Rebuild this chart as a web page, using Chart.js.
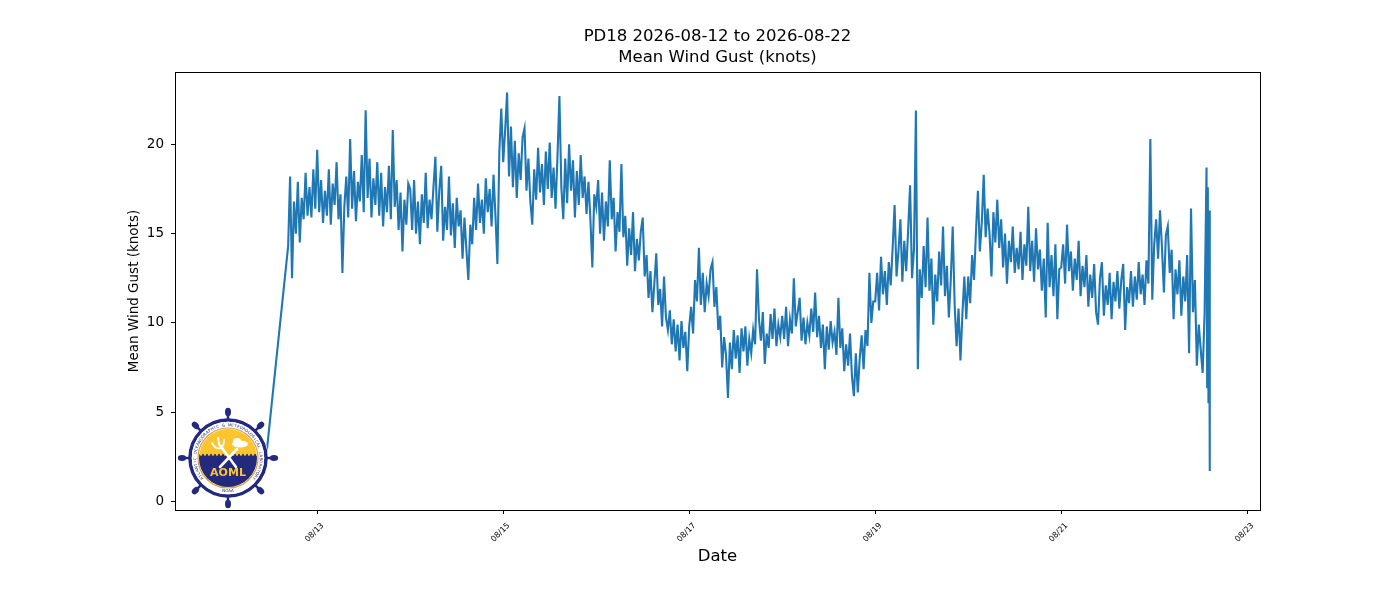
<!DOCTYPE html>
<html>
<head>
<meta charset="utf-8">
<title>PD18 Mean Wind Gust</title>
<script src="https://cdn.jsdelivr.net/npm/chart.js@4.4.1/dist/chart.umd.min.js"></script>
<style>
  body { margin: 0; background: #fff; }
  #gustChart { display: block; }
</style>
</head>
<body>
<canvas id="gustChart" width="1400" height="600"></canvas>
<script>
// Hours are counted from 2026-08-12 00:00, readings every 30 minutes
const tickHours = [24, 72, 120, 168, 216, 264];
const tickLabels = ['08/13', '08/15', '08/17', '08/19', '08/21', '08/23'];
const yTicks = [0, 5, 10, 15, 20];

// lone early reading before the gap (sits behind the badge)
const firstReading = { hour: 10.4, value: 1.6 };

// 08/12 from 16:30
const aug12 = [14.3, 18.2, 12.5, 16.8, 15.0, 17.9, 14.5, 17.0, 15.8, 18.4, 16.0, 17.6, 15.9, 18.6, 16.4];
const aug13 = [19.7, 16.2, 18.0, 15.6, 17.4, 16.0, 18.6, 15.5, 17.8, 16.6, 19.0, 15.8, 17.2, 12.8, 16.5, 18.2,
               15.9, 20.3, 16.4, 18.5, 15.7, 17.9, 16.8, 19.4, 16.2, 21.9, 17.0, 19.2, 15.9, 18.1, 16.6, 19.0,
               16.0, 18.4, 15.4, 17.6, 16.2, 18.8, 15.8, 20.8, 16.5, 18.0, 15.2, 17.3, 14.0, 16.9, 15.5, 17.8];
const aug14 = [17.5, 15.2, 18.0, 15.0, 16.8, 14.4, 17.2, 15.6, 18.4, 15.3, 16.9, 15.8, 17.6, 19.3, 15.1, 17.4,
               18.8, 14.6, 16.5, 15.2, 18.2, 14.9, 16.7, 14.2, 17.0, 15.4, 16.3, 13.6, 15.9, 14.1, 12.4, 15.5,
               14.4, 17.0, 15.2, 17.8, 15.6, 16.9, 15.0, 18.1, 16.2, 17.5, 15.4, 18.3, 16.0, 13.3, 19.6, 22.0];
const aug15 = [19.0, 20.8, 22.9, 18.2, 21.0, 17.6, 20.2, 17.0, 19.5, 18.0, 20.4, 20.9, 17.4, 19.2, 16.8, 15.5,
               18.6, 16.9, 19.8, 17.3, 18.9, 16.6, 19.6, 17.5, 20.1, 17.0, 18.7, 16.4, 19.3, 22.7, 17.6, 15.8,
               19.2, 16.7, 20.0, 17.4, 19.1, 15.9, 18.5, 16.6, 19.4, 17.0, 18.2, 16.1, 17.9, 15.8, 13.1, 17.2];
const aug16 = [16.5, 18.0, 15.0, 17.3, 14.6, 16.8, 15.4, 19.1, 15.8, 17.0, 14.0, 16.2, 15.1, 18.9, 14.8, 16.0,
               13.2, 15.3, 13.8, 16.2, 12.9, 14.7, 13.5, 15.1, 15.9, 12.6, 13.8, 11.4, 12.9, 10.6, 12.2, 13.9,
               11.0, 11.9, 9.8, 12.6, 10.3, 9.6, 10.7, 8.8, 10.2, 8.4, 9.9, 7.9, 10.1, 8.6, 9.5, 7.3];
const aug17 = [9.8, 10.9, 9.4, 12.4, 11.2, 14.2, 11.0, 12.8, 10.6, 12.2, 11.5, 13.0, 13.4, 10.9, 12.0, 9.6,
               10.4, 7.5, 9.2, 8.2, 5.8, 8.9, 7.4, 9.6, 8.0, 9.3, 7.2, 9.7, 8.4, 9.8, 7.6, 9.1,
               8.3, 9.6, 8.8, 13.0, 10.2, 9.0, 10.6, 7.7, 9.4, 8.6, 10.5, 9.1, 10.8, 8.7, 9.9, 9.2];
const aug18 = [10.4, 9.1, 10.9, 8.7, 10.2, 9.4, 12.5, 9.8, 10.6, 11.4, 9.0, 10.3, 8.8, 10.0, 9.3, 10.8,
               9.5, 11.7, 9.2, 10.4, 8.6, 9.9, 7.4, 9.8, 8.5, 10.1, 8.9, 9.5, 8.2, 11.4, 8.6, 9.7,
               7.3, 8.8, 7.6, 9.4, 7.0, 5.9, 8.3, 6.1, 8.0, 9.3, 7.4, 9.6, 8.7, 12.8, 10.0, 11.2];
const aug19 = [11.2, 12.8, 10.7, 13.7, 11.6, 12.9, 11.0, 13.4, 12.1, 14.2, 16.6, 12.6, 14.0, 15.8, 12.3, 14.6,
               12.9, 15.2, 17.7, 12.5, 14.1, 21.9, 7.4, 13.0, 11.4, 14.3, 12.0, 15.9, 11.8, 13.6, 9.9, 12.7,
               11.2, 14.0, 12.1, 15.4, 11.5, 13.2, 10.3, 12.4, 15.4, 11.0, 8.7, 10.8, 7.9, 10.5, 12.6, 10.2];
const aug20 = [12.6, 11.1, 13.8, 12.4, 15.1, 17.4, 14.0, 15.6, 18.3, 14.8, 16.4, 15.0, 12.6, 16.2, 14.5, 16.9,
               14.2, 15.8, 13.1, 15.0, 12.2, 14.6, 13.4, 15.4, 12.8, 14.2, 13.0, 15.1, 12.4, 14.4, 13.2, 16.5,
               12.9, 14.6, 12.3, 15.3, 13.0, 14.1, 11.8, 13.6, 10.3, 15.6, 12.0, 13.8, 11.5, 14.4, 10.2, 13.0];
const aug21 = [13.1, 14.4, 12.2, 15.5, 12.9, 14.0, 11.8, 13.6, 12.4, 14.6, 11.5, 13.2, 12.0, 13.8, 10.9, 12.7,
               11.4, 13.3, 10.6, 9.9, 12.5, 13.4, 10.4, 12.1, 11.0, 12.8, 10.2, 12.3, 11.2, 12.9, 10.8, 12.4,
               13.3, 9.6, 12.0, 11.1, 12.9, 10.9, 12.6, 11.3, 13.4, 11.6, 12.7, 11.0, 13.5, 12.2, 20.3, 11.3];
// 08/22 up to 13:00
const aug22 = [14.4, 15.8, 13.6, 16.3, 14.2, 11.7, 14.9, 15.4, 12.8, 14.1, 10.2, 13.0, 11.6, 13.5, 10.4, 12.6,
               11.2, 13.8, 8.3, 16.4, 10.6, 12.4, 7.6, 9.9, 8.5, 7.2, 10.5];
// last readings of 08/22, every 10 minutes from 13:30
const aug22Tail = [18.7, 6.4, 17.6, 5.5, 16.3, 1.7];

const segments = [
    { start: 16.5, step: 0.5, values: aug12 },
    { start: 24, step: 0.5, values: aug13 },
    { start: 48, step: 0.5, values: aug14 },
    { start: 72, step: 0.5, values: aug15 },
    { start: 96, step: 0.5, values: aug16 },
    { start: 120, step: 0.5, values: aug17 },
    { start: 144, step: 0.5, values: aug18 },
    { start: 168, step: 0.5, values: aug19 },
    { start: 192, step: 0.5, values: aug20 },
    { start: 216, step: 0.5, values: aug21 },
    { start: 240, step: 0.5, values: aug22 },
    { start: 253.5, step: 1 / 6, values: aug22Tail }
];

var points = [{ x: firstReading.hour, y: firstReading.value }];
segments.forEach(seg => {
    seg.values.forEach((v, i) => points.push({ x: seg.start + i * seg.step, y: v }));
});

const FONT = "'DejaVu Sans', sans-serif";

// frame, titles, axis labels and the AOML badge
const decorations = {
    id: 'decorations',
    afterDatasetsDraw(chart) {
        const ctx = chart.ctx;
        const a = chart.chartArea;
        ctx.save();
        ctx.strokeStyle = '#000';
        ctx.lineWidth = 1;
        ctx.strokeRect(Math.round(a.left) + 0.5, Math.round(a.top) + 0.5,
                       Math.round(a.right - a.left), Math.round(a.bottom - a.top));
        drawBadge(ctx, a.left + 53, a.bottom - 52);
        ctx.restore();
    },
    afterDraw(chart) {
        const ctx = chart.ctx;
        const a = chart.chartArea;
        const cx = (a.left + a.right) / 2;
        ctx.save();
        ctx.fillStyle = '#000';
        ctx.textAlign = 'center';
        ctx.textBaseline = 'middle';
        ctx.font = '16.5px ' + FONT;
        ctx.fillText('PD18 2026-08-12 to 2026-08-22', cx, 37);
        ctx.fillText('Mean Wind Gust (knots)', cx, 58);
        ctx.fillText('Date', cx, 557);
        ctx.translate(134, (a.top + a.bottom) / 2);
        ctx.rotate(-Math.PI / 2);
        ctx.font = '13.5px ' + FONT;
        ctx.fillText('Mean Wind Gust (knots)', 0, 0);
        ctx.restore();
    }
};

function drawBadge(ctx, x, y) {
    const navy = '#232a7e';
    const gold = '#fcc52f';
    ctx.save();
    ctx.translate(x, y);
    ctx.fillStyle = '#fff';
    ctx.beginPath();
    ctx.arc(0, 0, 40.5, 0, Math.PI * 2);
    ctx.fill();
    // wheel spokes and handles
    ctx.fillStyle = navy;
    ctx.strokeStyle = navy;
    for (let k = 0; k < 8; k++) {
        const ang = k * Math.PI / 4;
        ctx.save();
        ctx.rotate(ang);
        ctx.lineWidth = 2.5;
        ctx.beginPath();
        ctx.moveTo(37, 0);
        ctx.lineTo(44, 0);
        ctx.stroke();
        ctx.beginPath();
        ctx.ellipse(46, 0, 4.2, 3, 0, 0, Math.PI * 2);
        ctx.fill();
        ctx.restore();
    }
    ctx.lineWidth = 3.5;
    ctx.beginPath();
    ctx.arc(0, 0, 38, 0, Math.PI * 2);
    ctx.stroke();
    ctx.fillStyle = '#fff';
    ctx.beginPath();
    ctx.arc(0, 0, 36.2, 0, Math.PI * 2);
    ctx.fill();
    // ring lettering
    ctx.fillStyle = navy;
    ctx.font = '4px ' + FONT;
    ctx.textAlign = 'center';
    ctx.textBaseline = 'middle';
    const ring = 'ATLANTIC OCEANOGRAPHIC & METEOROLOGICAL LABORATORY';
    const span = Math.PI * 1.45;
    for (let i = 0; i < ring.length; i++) {
        const t = -Math.PI / 2 - span / 2 + (i + 0.5) * span / ring.length;
        ctx.save();
        ctx.rotate(t + Math.PI / 2);
        ctx.fillText(ring[i], 0, -32.8);
        ctx.restore();
    }
    ctx.fillText('NOAA', 0, 32.5);
    // inner disc
    ctx.strokeStyle = '#d8a23a';
    ctx.lineWidth = 1.2;
    ctx.beginPath();
    ctx.arc(0, 0, 30, 0, Math.PI * 2);
    ctx.stroke();
    ctx.save();
    ctx.beginPath();
    ctx.arc(0, 0, 29, 0, Math.PI * 2);
    ctx.clip();
    ctx.fillStyle = gold;
    ctx.fillRect(-30, -30, 60, 60);
    ctx.fillStyle = navy;
    ctx.beginPath();
    ctx.moveTo(-30, -3);
    for (let wx = -30; wx <= 30; wx += 4) {
        ctx.quadraticCurveTo(wx + 1, -5.5, wx + 2, -3);
        ctx.quadraticCurveTo(wx + 3, -1, wx + 4, -3);
    }
    ctx.lineTo(30, 30);
    ctx.lineTo(-30, 30);
    ctx.closePath();
    ctx.fill();
    ctx.restore();
    // trident and bolt crossing
    ctx.strokeStyle = '#fff';
    ctx.lineCap = 'round';
    ctx.lineWidth = 2.6;
    ctx.beginPath();
    ctx.moveTo(-9, -14);
    ctx.lineTo(8, 9);
    ctx.moveTo(9, -9);
    ctx.lineTo(-8, 9);
    ctx.stroke();
    ctx.lineWidth = 1.8;
    ctx.beginPath();
    ctx.moveTo(-16, -15);
    ctx.quadraticCurveTo(-12, -8, -7, -10);
    ctx.moveTo(-9, -14);
    ctx.lineTo(-10, -20);
    ctx.moveTo(-4, -18);
    ctx.quadraticCurveTo(-4, -12, -7, -10);
    ctx.stroke();
    ctx.fillStyle = '#fff';
    ctx.beginPath();
    ctx.ellipse(12, -14, 8, 3.4, 0, 0, Math.PI * 2);
    ctx.ellipse(9, -17, 4, 3, 0, 0, Math.PI * 2);
    ctx.fill();
    ctx.fillStyle = gold;
    ctx.font = 'bold 11px ' + FONT;
    ctx.fillText('AOML', 0, 15.5);
    ctx.restore();
}

new Chart(document.getElementById('gustChart').getContext('2d'), {
    type: 'line',
    data: {
        datasets: [{
            label: 'Mean Wind Gust (knots)',
            data: points,
            borderColor: '#1f77b4',
            borderWidth: 2.1,
            pointRadius: 0,
            tension: 0,
            fill: false
        }]
    },
    options: {
        responsive: false,
        animation: false,
        devicePixelRatio: 1,
        parsing: false,
        layout: { padding: { top: 72, right: 140, left: 0, bottom: 0 } },
        plugins: {
            legend: { display: false },
            tooltip: { enabled: false }
        },
        scales: {
            x: {
                type: 'linear',
                min: -12.7,
                max: 267.3,
                afterFit: s => { s.height = 90; },
                afterBuildTicks: s => { s.ticks = tickHours.map(v => ({ value: v })); },
                grid: { display: true, drawOnChartArea: false, drawTicks: true, tickLength: 4, color: '#000' },
                border: { display: false },
                ticks: {
                    autoSkip: false,
                    minRotation: 45,
                    maxRotation: 45,
                    labelOffset: 5.5,
                    padding: 7,
                    color: '#000',
                    font: { family: FONT, size: 8 },
                    callback: (v, i) => tickLabels[i]
                }
            },
            y: {
                type: 'linear',
                min: -0.48,
                max: 24.05,
                afterFit: s => { s.width = 175; },
                afterBuildTicks: s => { s.ticks = yTicks.map(v => ({ value: v })); },
                grid: { display: true, drawOnChartArea: false, drawTicks: true, tickLength: 4, color: '#000' },
                border: { display: false },
                ticks: {
                    padding: 7,
                    color: '#000',
                    font: { family: FONT, size: 13.5 },
                    callback: v => String(v)
                }
            }
        }
    },
    plugins: [decorations]
});
</script>
</body>
</html>
